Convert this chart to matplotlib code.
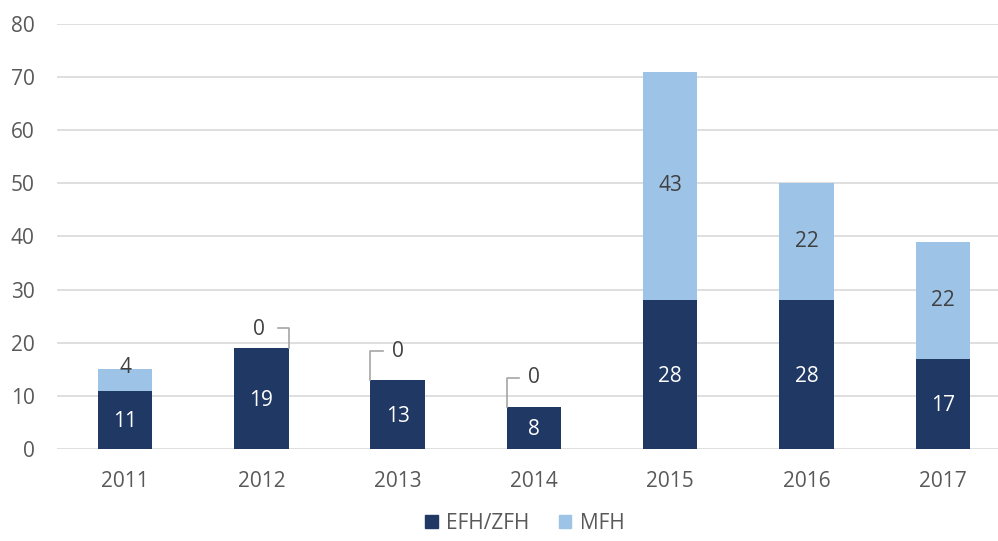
import numpy as np
import matplotlib.pyplot as plt
from matplotlib.patches import Patch

years = ['2011', '2012', '2013', '2014', '2015', '2016', '2017']
efh_zfh = [11, 19, 13, 8, 28, 28, 17]
mfh = [4, 0, 0, 0, 43, 22, 22]

dark = '#203864'
light = '#9DC3E6'
text_col = '#595959'
lab_col = '#404040'
grid_col = '#D9D9D9'
leader_col = '#A6A6A6'
fs = 15

plt.rcParams['font.family'] = ['Open Sans', 'DejaVu Sans']

fig = plt.figure(figsize=(9.98, 5.41), dpi=100)
ax = fig.add_axes([0.057, 0.170, 0.956, 0.786])

x = np.arange(len(years))
w = 0.40
ax.bar(x, efh_zfh, w, color=dark, zorder=3, label='EFH/ZFH')
ax.bar(x, mfh, w, bottom=efh_zfh, color=light, zorder=3, label='MFH')

ax.set_ylim(0, 80)
ax.set_xlim(-0.5, len(years) - 0.5)
ax.set_yticks(range(0, 81, 10))
ax.set_xticks(x)
ax.set_xticklabels(years)
ax.tick_params(axis='both', length=0, labelsize=fs, colors=text_col)
ax.tick_params(axis='y', pad=16)
ax.tick_params(axis='x', pad=16)
ax.yaxis.grid(True, color=grid_col, linewidth=1.2, zorder=0)
for s in ax.spines.values():
    s.set_visible(False)

# labels inside dark segments
for xi, v in zip(x, efh_zfh):
    ax.text(xi, v / 2 - 0.3, str(v), ha='center', va='center',
            color='white', fontsize=fs, zorder=4)

# MFH labels
for xi, b, v in zip(x, efh_zfh, mfh):
    if v > 5:
        ax.text(xi, b + v / 2, str(v), ha='center', va='center',
                color=lab_col, fontsize=fs, zorder=4)
ax.text(0, 15.4, '4', ha='center', va='center', color=lab_col, fontsize=fs, zorder=4)

# zero labels with leader lines
ax.text(0.98, 22.4, '0', ha='center', va='center', color=lab_col, fontsize=fs, zorder=4)
ax.plot([1.12, 1.2, 1.2], [22.8, 22.8, 19], color=leader_col, lw=1.2, zorder=4)

ax.text(2.0, 18.3, '0', ha='center', va='center', color=lab_col, fontsize=fs, zorder=4)
ax.plot([1.8, 1.8, 1.89], [13, 18.45, 18.45], color=leader_col, lw=1.2, zorder=4)

ax.text(3.0, 13.4, '0', ha='center', va='center', color=lab_col, fontsize=fs, zorder=4)
ax.plot([2.8, 2.8, 2.89], [8, 13.4, 13.4], color=leader_col, lw=1.2, zorder=4)

handles = [Patch(color=dark, label='EFH/ZFH'), Patch(color=light, label='MFH')]
leg = fig.legend(handles=handles, loc='lower center', bbox_to_anchor=(0.526, -0.022),
                 ncol=2, frameon=False, fontsize=fs, handlelength=0.6,
                 handleheight=0.6, handletextpad=0.4, columnspacing=1.4)
for t in leg.get_texts():
    t.set_color(text_col)

fig.savefig('out.png', dpi=100)
